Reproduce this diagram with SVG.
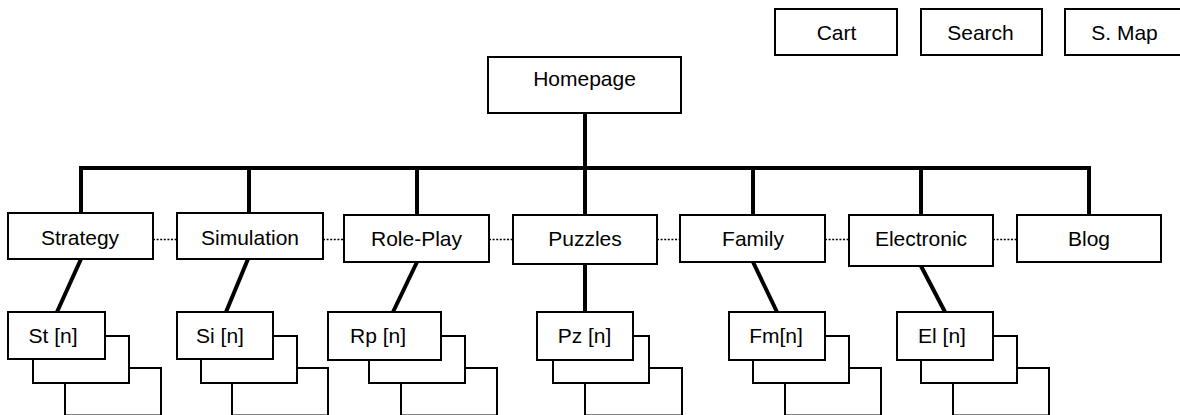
<svg xmlns="http://www.w3.org/2000/svg" width="1180" height="415" viewBox="0 0 1180 415">
  <style>
    .box { fill: #ffffff; stroke: #000000; stroke-width: 2; }
    .lbl { font-family: "Liberation Sans", Arial, sans-serif; font-size: 21px; fill: #000000; text-anchor: middle; }
    .link { fill: none; stroke: #000000; stroke-width: 4; stroke-linejoin: miter; }
    .peer { fill: none; stroke: #000000; stroke-width: 1.5; stroke-dasharray: 2 1.6; }
  </style>
  <rect width="1180" height="415" fill="#ffffff"/>

  <!-- utility links -->
  <g id="cart"><rect class="box" x="775" y="9" width="122" height="46"/><text class="lbl" x="836.5" y="40">Cart</text></g>
  <g id="search"><rect class="box" x="921" y="9" width="121" height="46"/><text class="lbl" x="980.5" y="40">Search</text></g>
  <g id="sitemap"><rect class="box" x="1065" y="9" width="124" height="46"/><text class="lbl" x="1124.5" y="40">S. Map</text></g>

  <!-- connectors -->
  <g id="connectors">
    <path class="link" d="M81,213 V168 H1089 V215"/>
    <path class="link" d="M585,113 V215"/>
    <path class="link" d="M249,168 V213"/>
    <path class="link" d="M417,168 V215"/>
    <path class="link" d="M753,168 V215"/>
    <path class="link" d="M921,168 V215"/>
    <path class="link" d="M81,259 L57,312"/>
    <path class="link" d="M248,259 L226,312"/>
    <path class="link" d="M417,262 L393,312"/>
    <path class="link" d="M585,264 V312"/>
    <path class="link" d="M753,262 L777,312"/>
    <path class="link" d="M921,266 L945,312"/>
    <path class="peer" d="M153,239.5 H177 M323,239.5 H344 M489,239.5 H513 M657,239.5 H680 M825,239.5 H849 M993,239.5 H1017"/>
  </g>

  <!-- top level -->
  <g id="homepage"><rect class="box" x="488" y="57" width="193" height="56"/><text class="lbl" x="584.5" y="86">Homepage</text></g>

  <!-- categories -->
  <g id="strategy"><rect class="box" x="8" y="213" width="145" height="46"/><text class="lbl" x="80" y="245">Strategy</text></g>
  <g id="simulation"><rect class="box" x="177" y="213" width="146" height="46"/><text class="lbl" x="250" y="245">Simulation</text></g>
  <g id="roleplay"><rect class="box" x="344" y="215" width="145" height="47"/><text class="lbl" x="416.5" y="246">Role-Play</text></g>
  <g id="puzzles"><rect class="box" x="513" y="215" width="144" height="49"/><text class="lbl" x="585" y="246">Puzzles</text></g>
  <g id="family"><rect class="box" x="680" y="215" width="145" height="47"/><text class="lbl" x="753" y="246">Family</text></g>
  <g id="electronic"><rect class="box" x="849" y="215" width="144" height="51"/><text class="lbl" x="921" y="246">Electronic</text></g>
  <g id="blog"><rect class="box" x="1017" y="215" width="144" height="47"/><text class="lbl" x="1089" y="246">Blog</text></g>

  <!-- product pages (stacked) -->
  <g id="st-pages">
    <rect class="box" x="65" y="368" width="96" height="47.5"/>
    <rect class="box" x="33" y="336" width="96" height="47"/>
    <rect class="box" x="8" y="312" width="97" height="47"/>
    <text class="lbl" x="53" y="343">St [n]</text>
  </g>
  <g id="si-pages">
    <rect class="box" x="232" y="368" width="96" height="47.5"/>
    <rect class="box" x="201" y="336" width="96" height="47"/>
    <rect class="box" x="177" y="312" width="96" height="47"/>
    <text class="lbl" x="220" y="343">Si [n]</text>
  </g>
  <g id="rp-pages">
    <rect class="box" x="401" y="368" width="96" height="47.5"/>
    <rect class="box" x="369" y="336" width="96" height="47"/>
    <rect class="box" x="328" y="312" width="113" height="48"/>
    <text class="lbl" x="378" y="343">Rp [n]</text>
  </g>
  <g id="pz-pages">
    <rect class="box" x="585" y="368" width="97" height="47.5"/>
    <rect class="box" x="553" y="336" width="96" height="47"/>
    <rect class="box" x="537" y="312" width="96" height="48"/>
    <text class="lbl" x="584.5" y="343">Pz [n]</text>
  </g>
  <g id="fm-pages">
    <rect class="box" x="785" y="368" width="96" height="47.5"/>
    <rect class="box" x="753" y="336" width="96" height="47"/>
    <rect class="box" x="729" y="312" width="96" height="48"/>
    <text class="lbl" x="776" y="343">Fm[n]</text>
  </g>
  <g id="el-pages">
    <rect class="box" x="953" y="368" width="96" height="47.5"/>
    <rect class="box" x="921" y="336" width="96" height="47"/>
    <rect class="box" x="897" y="312" width="96" height="48"/>
    <text class="lbl" x="942" y="343">El [n]</text>
  </g>
</svg>
